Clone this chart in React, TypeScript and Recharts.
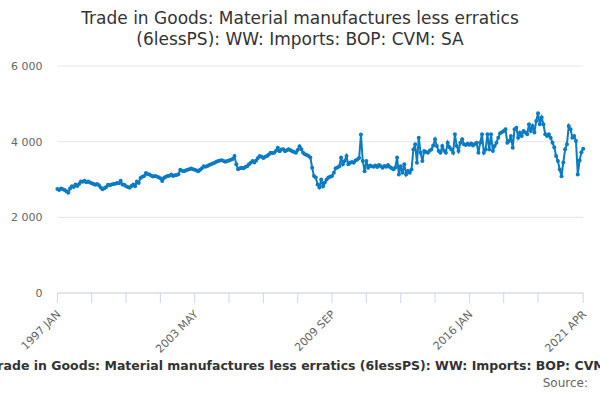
import React from 'react';
import { LineChart, Line, XAxis, YAxis, CartesianGrid } from 'recharts';

const values: number[] = [
  // 1997
  2750, 2720, 2760, 2740, 2720, 2690, 2650, 2760, 2820, 2800, 2870, 2830,
  // 1998
  2880, 2950, 2940, 2970, 2930, 2950, 2920, 2900, 2880, 2860, 2880, 2850,
  // 1999
  2790, 2740, 2770, 2800, 2860, 2850, 2870, 2880, 2890, 2910, 2900, 2970,
  // 2000
  2870, 2860, 2820, 2800, 2780, 2830, 2870, 2820, 2950, 2910, 3040, 3070,
  // 2001
  3090, 3170, 3140, 3130, 3100, 3080, 3090, 3080, 3060, 3030, 2960, 3040,
  // 2002
  3070, 3090, 3100, 3130, 3090, 3110, 3120, 3140, 3260, 3230, 3220, 3240,
  // 2003
  3260, 3270, 3290, 3270, 3260, 3240, 3220, 3260, 3300, 3350, 3340, 3360,
  // 2004
  3380, 3400, 3420, 3440, 3470, 3490, 3500, 3510, 3490, 3470, 3490, 3500,
  // 2005
  3520, 3540, 3620, 3400, 3270, 3300, 3310, 3300, 3330, 3350, 3400, 3440,
  // 2006
  3490, 3450, 3500, 3570, 3620, 3600, 3570, 3600, 3620, 3660, 3710, 3700,
  // 2007
  3710, 3760, 3840, 3750, 3790, 3800, 3750, 3770, 3800, 3770, 3750, 3730,
  // 2008
  3710, 3780, 3880, 3800, 3710, 3670, 3650, 3620, 3580, 3310, 3090, 3050,
  // 2009
  2870, 2790, 3000, 2820, 2920, 3000, 3050, 3070, 3090, 3180, 3300, 3320,
  // 2010
  3350, 3580, 3400, 3490, 3620, 3400, 3440, 3460, 3440, 3500, 3530, 3570,
  // 2011
  4190, 3490, 3220, 3490, 3310, 3370, 3350, 3340, 3370, 3330, 3380, 3350,
  // 2012
  3310, 3360, 3340, 3380, 3330, 3300, 3270, 3320, 3580, 3130, 3350, 3180,
  // 2013
  3400, 3130, 3230, 3180, 3265, 3796, 3929, 3443, 4106, 3708, 3486, 3752,
  // 2014
  3730, 3708, 3760, 3796, 3900, 4062, 3885, 3752, 3708, 3885, 3760, 3708,
  // 2015
  3973, 3850, 3796, 3708, 4194, 3885, 3752, 3973, 4062, 3930, 3910, 3945,
  // 2016
  3920, 3950, 3900, 3940, 3973, 3708, 3973, 4194, 3708, 3796, 4194, 3796,
  // 2017
  4194, 3752, 3885, 3973, 4106, 4220, 4250, 4283, 4327, 3973, 4018, 4150,
  // 2018
  3841, 4327, 4371, 4106, 4239, 4150, 4283, 4239, 4194, 4460, 4283, 4416,
  // 2019
  4239, 4549, 4752, 4460, 4637, 4460, 4194, 4150, 4194, 4106, 3973, 3850,
  // 2020
  3620, 3487, 3265, 3088, 3450, 3800, 3929, 4416, 4327, 4106, 4150, 4018,
  // 2021
  3132, 3500, 3720, 3810,
];

const MONTHS = ['JAN', 'FEB', 'MAR', 'APR', 'MAY', 'JUN', 'JUL', 'AUG', 'SEP', 'OCT', 'NOV', 'DEC'];
const START_YEAR = 1997;
const categories: string[] = values.map((_, i) => `${START_YEAR + Math.floor(i / 12)} ${MONTHS[i % 12]}`);

const tickIndices: number[] = [0, 19, 38, 57, 76, 95, 114, 133, 152, 171, 190, 209, 228, 247, 266, 291];
const labelIndices: number[] = [0, 76, 152, 228, 291];
const yTicks: number[] = [0, 2000, 4000, 6000];

const TITLE_1 = 'Trade in Goods: Material manufactures less erratics';
const TITLE_2 = '(6lessPS): WW: Imports: BOP: CVM: SA';
const X_TITLE = 'Trade in Goods: Material manufactures less erratics (6lessPS): WW: Imports: BOP: CVM: SA';
const SOURCE = 'Source:';

const data = values.map((v, i) => ({ idx: i, label: categories[i], value: v }));

const LINE_COLOR = '#0b7bc2';
const FONT = '"DejaVu Sans", Verdana, sans-serif';

const fmt = (v: number) => String(v).replace(/\B(?=(\d{3})+(?!\d))/g, ' ');

const XTick = (props: any) => {
  const { x, y, payload } = props;
  if (!labelIndices.includes(payload.value)) return <g />;
  const ax = x + 4;
  const ay = y + 10;
  return (
    <text
      x={ax}
      y={ay}
      transform={`rotate(-45 ${ax} ${ay})`}
      textAnchor="end"
      fontSize={11}
      fill="#666666"
      fontFamily={FONT}
    >
      {categories[payload.value]}
    </text>
  );
};

export default function App() {
  return (
    <div
      style={{
        position: 'absolute',
        left: 0,
        top: 0,
        width: 600,
        height: 400,
        overflow: 'hidden',
        background: '#ffffff',
        fontFamily: FONT,
      }}
    >
      <LineChart
        width={600}
        height={400}
        data={data}
        margin={{ top: 66, right: 16.8, left: 0, bottom: 0 }}
      >
        <CartesianGrid horizontal vertical={false} stroke="#e6e6e6" />
        <XAxis
          dataKey="idx"
          type="number"
          domain={[0, values.length - 1]}
          ticks={tickIndices}
          interval={0}
          height={107}
          axisLine={{ stroke: '#ccd6eb' }}
          tickLine={{ stroke: '#ccd6eb' }}
          tickSize={10}
          tickMargin={2}
          tick={<XTick />}
        />
        <YAxis
          type="number"
          domain={[0, 6000]}
          ticks={yTicks}
          width={57.4}
          axisLine={false}
          tickLine={false}
          tickSize={6}
          tickMargin={9}
          tickFormatter={fmt}
          tick={{ fontSize: 11, fill: '#666666', fontFamily: FONT }}
        />
        <Line
          type="linear"
          dataKey="value"
          stroke={LINE_COLOR}
          strokeWidth={2}
          dot={{ r: 2, fill: LINE_COLOR, stroke: 'none' }}
          isAnimationActive={false}
        />
      </LineChart>
      <svg
        width={600}
        height={400}
        style={{ position: 'absolute', left: 0, top: 0, pointerEvents: 'none' }}
      >
        <text x={300} y={24} textAnchor="middle" fontSize={17} fill="#333333" fontFamily={FONT}>
          {TITLE_1}
        </text>
        <text x={300} y={45} textAnchor="middle" fontSize={17} fill="#333333" fontFamily={FONT}>
          {TITLE_2}
        </text>
        <text x={312} y={370} textAnchor="middle" fontSize={12.5} fontWeight="bold" fill="#333333" fontFamily={FONT}>
          {X_TITLE}
        </text>
        <text x={588} y={387} textAnchor="end" fontSize={12} fill="#666666" fontFamily={FONT}>
          {SOURCE}
        </text>
      </svg>
    </div>
  );
}
